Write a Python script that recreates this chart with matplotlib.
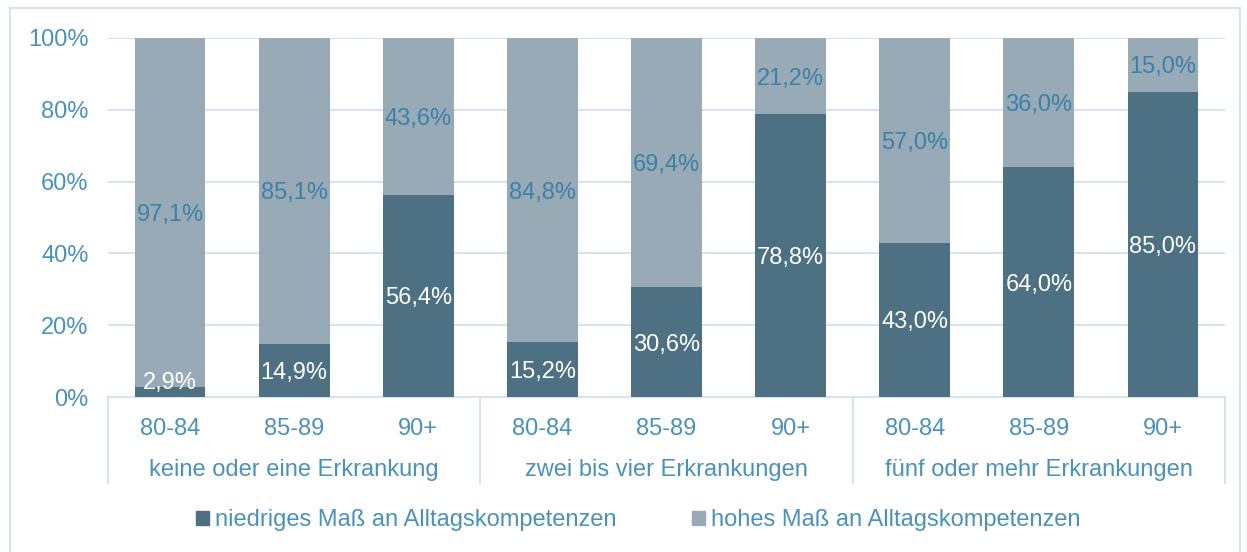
import matplotlib
matplotlib.use("Agg")
import matplotlib.pyplot as plt
from matplotlib.patches import Rectangle

plt.rcParams['font.family'] = ['Liberation Sans', 'DejaVu Sans']

groups = ["keine oder eine Erkrankung", "zwei bis vier Erkrankungen", "fünf oder mehr Erkrankungen"]
ages = ["80-84", "85-89", "90+"]
niedrig = [2.9, 14.9, 56.4, 15.2, 30.6, 78.8, 43.0, 64.0, 85.0]
hoch = [97.1, 85.1, 43.6, 84.8, 69.4, 21.2, 57.0, 36.0, 15.0]
series_names = ["niedriges Maß an Alltagskompetenzen", "hohes Maß an Alltagskompetenzen"]

c_dark = "#4d7082"
c_light = "#97aab5"
c_text = "#4a92bb"
c_lbl = "#3d80a8"
c_grid = "#d5e5f0"

W, H = 1247, 552
fig = plt.figure(figsize=(W / 100, H / 100), dpi=100)
ax = fig.add_axes([108 / W, 1 - 397 / H, (1225 - 108) / W, (397 - 38) / H])

x = list(range(len(niedrig)))
bw = 0.57
ax.bar(x, niedrig, width=bw, color=c_dark, zorder=3)
ax.bar(x, hoch, width=bw, bottom=niedrig, color=c_light, zorder=3)

fs = 17
for xi, lo, hi in zip(x, niedrig, hoch):
    yl = max(lo / 2, 4.7)
    ax.text(xi, yl, f"{lo:.1f}%".replace(".", ","), ha="center", va="center_baseline",
            color="white", fontsize=fs, zorder=4)
    ax.text(xi, lo + hi / 2, f"{hi:.1f}%".replace(".", ","), ha="center", va="center_baseline",
            color=c_lbl, fontsize=fs, zorder=4)

ax.set_xlim(-0.5, len(x) - 0.5)
ax.set_ylim(0, 100)
ax.set_yticks([0, 20, 40, 60, 80, 100])
ax.set_yticklabels([f"{v}%" for v in [0, 20, 40, 60, 80, 100]])
ax.yaxis.grid(True, color=c_grid, linewidth=1.5, zorder=0)
ax.tick_params(axis="y", length=0, labelsize=fs, labelcolor=c_text, pad=14)
ax.set_xticks([])
for s in ax.spines.values():
    s.set_visible(False)

# x-axis labels (ages and groups)
for xi in x:
    ax.text(xi, -8.2, ages[xi % 3], ha="center", va="center_baseline", color=c_text, fontsize=fs,
            clip_on=False)
for gi, g in enumerate(groups):
    ax.text(gi * 3 + 1, -19.6, g, ha="center", va="center_baseline", color=c_text, fontsize=fs,
            clip_on=False)

# category box lines
ybot = -(483 - 397) / 359 * 100
lk = dict(color=c_grid, linewidth=1.5, clip_on=False, zorder=2)
ax.plot([-0.5, len(x) - 0.5], [0, 0], **lk)
for b in [-0.5, 2.5, 5.5, 8.5]:
    ax.plot([b, b], [0, ybot], **lk)

# outer frame
fig.patches.append(Rectangle((10 / W, -0.01), (1240 - 10) / W, 1 - 8 / H + 0.01,
                             transform=fig.transFigure, fill=False,
                             edgecolor=c_grid, linewidth=1.5))

# legend
handles = [Rectangle((0, 0), 1, 1, color=c_dark), Rectangle((0, 0), 1, 1, color=c_light)]
leg = fig.legend(handles, series_names, loc="center", bbox_to_anchor=(638 / W, 1 - 520 / H),
                 ncol=2, frameon=False, fontsize=fs, handlelength=0.55, handleheight=0.55,
                 handletextpad=0.25, columnspacing=3.2)
for t in leg.get_texts():
    t.set_color(c_text)

fig.savefig("out.png", dpi=100)
